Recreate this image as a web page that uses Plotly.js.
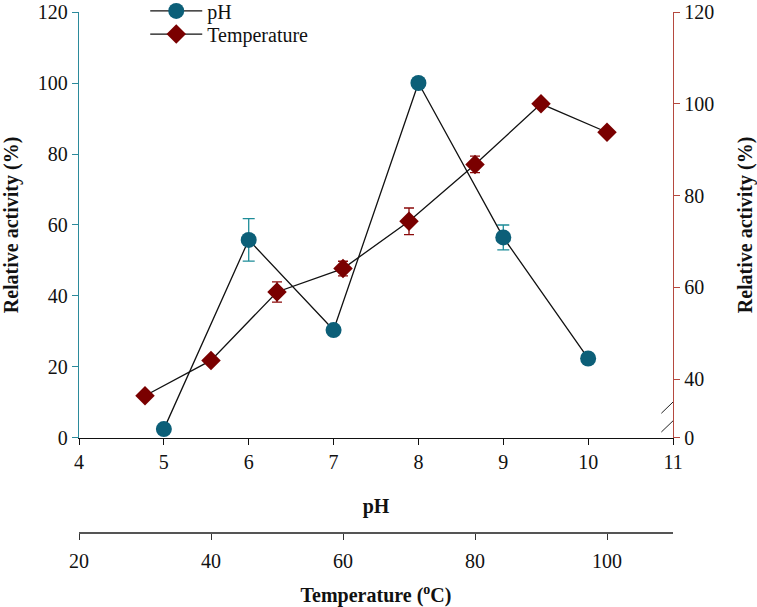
<!DOCTYPE html>
<html>
<head>
<meta charset="utf-8">
<script src="https://cdn.plot.ly/plotly-3.0.1.min.js"></script>
<style>
  html, body { margin: 0; padding: 0; background: #fff; }
  #chart { width: 757px; height: 607px; }
</style>
</head>
<body>
<div id="chart"></div>
<script>
// pH series (left axis)
const phValues = [5, 6, 7, 8, 9, 10];
const phActivity = [2.5, 55.8, 30.4, 100, 56.5, 22.4];
const phError = [0, 6, 0, 0, 3.5, 0];

// temperature series (right axis)
const tempValues = [30, 40, 50, 60, 70, 80, 90, 100];
const tempActivity = [36.4, 44.1, 59.0, 64.1, 74.4, 86.8, 100, 93.8];
const tempError = [0, 0, 2.2, 1.6, 2.9, 1.8, 0, 0];

// right axis is broken: the lowest tick reads 0
const rightTickVals = [27.2, 40, 60, 80, 100, 120];
const rightTickText = ['0', '40', '60', '80', '100', '120'];
const tempTickVals = [20, 40, 60, 80, 100];

const serif = 'Liberation Serif';

const traces = [
  {
    x: phValues,
    y: phActivity,
    name: 'pH',
    type: 'scatter',
    mode: 'lines+markers',
    line: { color: '#111', width: 1.3 },
    marker: { symbol: 'circle', size: 16, color: '#0c5f78' },
    error_y: { type: 'data', array: phError, visible: true, color: '#1d8c98', thickness: 1.3, width: 6 },
    xaxis: 'x',
    yaxis: 'y',
    legend: 'legend'
  },
  {
    x: tempValues,
    y: tempActivity,
    name: 'Temperature',
    type: 'scatter',
    mode: 'lines+markers',
    line: { color: '#111', width: 1.3 },
    marker: { symbol: 'diamond', size: 15, color: '#7a0000' },
    error_y: { type: 'data', array: tempError, visible: true, color: '#8a0a0a', thickness: 1.3, width: 5 },
    xaxis: 'x2',
    yaxis: 'y2',
    legend: 'legend2'
  }
];

// one legend box per entry so the two rows sit where the reference has them
function legendBox(yCenter) {
  return {
    x: 0.1115, y: yCenter, xanchor: 'left', yanchor: 'middle',
    bgcolor: 'rgba(0,0,0,0)',
    font: { family: serif, size: 20 },
    itemwidth: 52
  };
}

const layout = {
  width: 757,
  height: 607,
  margin: { l: 79, r: 84, t: 12, b: 70, autoexpand: false },
  paper_bgcolor: '#fff',
  plot_bgcolor: 'rgba(0,0,0,0)',
  font: { family: serif, size: 20, color: '#111' },
  showlegend: true,
  legend: legendBox(1.002),
  legend2: legendBox(0.958),
  xaxis: {
    range: [4, 11], dtick: 1,
    anchor: 'y',
    showline: true, linecolor: '#111', linewidth: 1.3,
    ticks: 'outside', ticklen: 6, tickcolor: '#111',
    tickfont: { family: serif, size: 20 },
    showgrid: false, zeroline: false, automargin: false,
    title: { text: '<b>pH</b>', standoff: 26, font: { family: serif, size: 20 } }
  },
  xaxis2: {
    range: [20, 110], tickvals: tempTickVals,
    overlaying: 'x', anchor: 'free', position: 0.008, side: 'bottom',
    showline: true, linecolor: '#555', linewidth: 2,
    ticks: 'outside', ticklen: 6, tickcolor: '#333',
    ticklabelstandoff: 4,
    tickfont: { family: serif, size: 20 },
    showgrid: false, zeroline: false, automargin: false,
    title: { text: '<b>Temperature (<sup>o</sup>C)</b>', standoff: 18, font: { family: serif, size: 20 } }
  },
  yaxis: {
    domain: [0.1886, 1],
    range: [0, 120], dtick: 20,
    showline: true, linecolor: '#2b8a9b', linewidth: 1.3,
    ticks: 'outside', ticklen: 6, tickcolor: '#2b8a9b',
    tickfont: { family: serif, size: 20 },
    showgrid: false, zeroline: false, automargin: false,
    title: { text: '<b>Relative activity (%)</b>', standoff: 15, font: { family: serif, size: 20 } }
  },
  yaxis2: {
    overlaying: 'y', side: 'right', anchor: 'x',
    range: [27.2, 120], tickvals: rightTickVals, ticktext: rightTickText,
    showline: true, linecolor: '#b5493f', linewidth: 1.3,
    ticks: 'outside', ticklen: 6, tickcolor: '#b5493f',
    tickfont: { family: serif, size: 20 },
    showgrid: false, zeroline: false, automargin: false,
    title: { text: '<b>Relative activity (%)</b>', standoff: 25, font: { family: serif, size: 20 } }
  },
  shapes: [
    // axis break marks
    { type: 'line', xref: 'x', yref: 'y', x0: 10.863, y0: 6.96, x1: 11.146, y1: 13.5, line: { color: '#222', width: 1 } },
    { type: 'line', xref: 'x', yref: 'y', x0: 10.863, y0: 1.69, x1: 11.146, y1: 8.17, line: { color: '#222', width: 1 } }
  ]
};

Plotly.newPlot('chart', traces, layout, { displayModeBar: false, staticPlot: true });
</script>
</body>
</html>
